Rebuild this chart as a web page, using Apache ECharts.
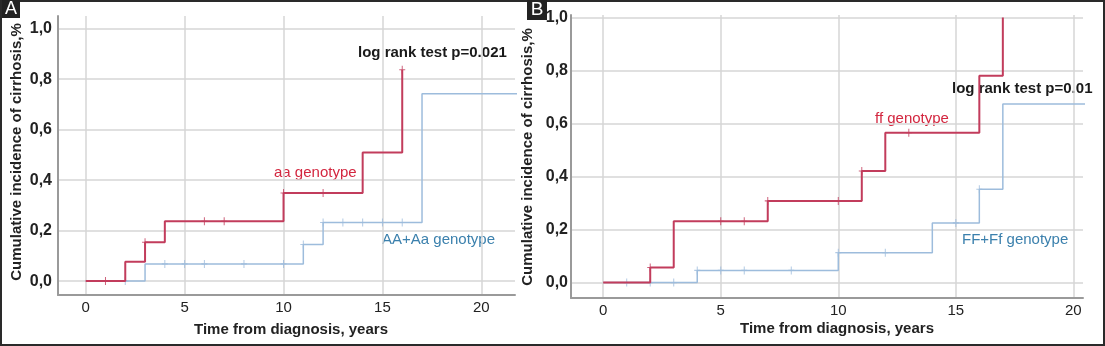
<!DOCTYPE html>
<html>
<head>
<meta charset="utf-8">
<script src="https://cdn.jsdelivr.net/npm/echarts@6/dist/echarts.min.js"></script>
<style>html,body{margin:0;padding:0;background:#fff}#c{width:1105px;height:346px}</style>
</head>
<body>
<div id="c"></div>
<script>
// ---- Data ----
const xTicks = [0, 5, 10, 15, 20];
const yTicks = [0, 0.2, 0.4, 0.6, 0.8, 1.0];

// Panel A
const aRedTimes   = [0, 2, 3, 4, 10, 14, 16];
const aRedValues  = [0, 0.077, 0.154, 0.237, 0.349, 0.509, 0.837];
const aRedCensor  = [1, 3, 6, 7, 10, 12, 16];
const aBlueTimes  = [0, 3, 11, 12, 17, 22];
const aBlueValues = [0, 0.068, 0.145, 0.232, 0.742, 0.742];
const aBlueCensor = [2, 4, 5, 6, 8, 10, 11, 12, 13, 14, 15, 16];

// Panel B
const bRedTimes   = [0, 2, 3, 7, 11, 12, 16, 17];
const bRedValues  = [0, 0.057, 0.231, 0.308, 0.421, 0.565, 0.78, 1.0];
const bRedCensor  = [2, 5, 6, 7, 10, 11, 13];
const bBlueTimes  = [0, 4, 10, 14, 16, 17, 21];
const bBlueValues = [0, 0.046, 0.113, 0.225, 0.352, 0.673, 0.673];
const bBlueCensor = [1, 2, 3, 4, 5, 6, 8, 10, 12, 15, 16];

// ---- Styling ----
const RED_LINE = '#c23c5c', BLUE_LINE = '#9dbcdc';
const RED_TEXT = '#d3263f', BLUE_TEXT = '#3b80ad';
const FONT = '"Liberation Sans", Arial, sans-serif';
const PLUS = 'path://M2.5,0H3.5V3H6V4H3.5V7H2.5V4H0V3H2.5Z';

function pairs(t, v) { return t.map((x, i) => [x, v[i]]); }
function valueAt(t, v, x) { let r = v[0]; for (let i = 0; i < t.length; i++) if (t[i] <= x) r = v[i]; return r; }
function censorPts(t, v, c) { return c.map(x => [x, valueAt(t, v, x)]); }

function xAxis(gi, min, max) {
  return {
    type: 'value', gridIndex: gi, min: min, max: max,
    axisLine: { show: true, onZero: false, lineStyle: { color: '#9a9a9a', width: 2 } },
    axisTick: { show: false, customValues: xTicks },
    axisLabel: { customValues: xTicks, color: '#222', fontFamily: FONT, fontSize: 15, margin: 5 },
    splitLine: { show: true, lineStyle: { color: '#d6d6d6', width: 1.5 } }
  };
}
function yAxis(gi, min, max, margin) {
  return {
    type: 'value', gridIndex: gi, min: min, max: max,
    axisLine: { show: true, onZero: false, lineStyle: { color: '#9a9a9a', width: 2 } },
    axisTick: { show: false, customValues: yTicks },
    axisLabel: { customValues: yTicks, color: '#222', fontFamily: FONT, fontSize: 16, fontWeight: 'bold', margin: margin,
      formatter: v => v.toFixed(1).replace('.', ',') },
    splitLine: { show: true, lineStyle: { color: '#d6d6d6', width: 1.5 } }
  };
}
function stepLine(gi, t, v, color, w) {
  return { type: 'line', xAxisIndex: gi, yAxisIndex: gi, step: 'end', symbol: 'none', clip: true,
    data: pairs(t, v), lineStyle: { color: color, width: w }, silent: true, animation: false };
}
function censors(gi, t, v, c, color) {
  return { type: 'scatter', xAxisIndex: gi, yAxisIndex: gi, symbol: PLUS, symbolSize: [6, 8],
    data: censorPts(t, v, c), itemStyle: { color: color }, silent: true, animation: false };
}

const chart = echarts.init(document.getElementById('c'), null, { renderer: 'canvas' });
chart.setOption({
  animation: false,
  grid: [
    { left: 58, top: 16, width: 457, height: 279 },
    { left: 571, top: 15, width: 512, height: 283 }
  ],
  xAxis: [xAxis(0, -1.4, 21.7), xAxis(1, -1.37, 20.41)],
  yAxis: [yAxis(0, -0.055, 1.05, 6), yAxis(1, -0.058, 1.009, 3)],
  series: [
    stepLine(0, aBlueTimes, aBlueValues, BLUE_LINE, 1.5),
    stepLine(0, aRedTimes, aRedValues, RED_LINE, 2),
    censors(0, aBlueTimes, aBlueValues, aBlueCensor, BLUE_LINE),
    censors(0, aRedTimes, aRedValues, aRedCensor, RED_LINE),
    stepLine(1, bBlueTimes, bBlueValues, BLUE_LINE, 1.5),
    stepLine(1, bRedTimes, bRedValues, RED_LINE, 2),
    censors(1, bBlueTimes, bBlueValues, bBlueCensor, BLUE_LINE),
    censors(1, bRedTimes, bRedValues, bRedCensor, RED_LINE)
  ],
  graphic: [
    { type: 'rect', shape: { x: 1, y: 1, width: 1103, height: 344 }, style: { fill: 'none', stroke: '#2a2a2a', lineWidth: 2 }, z: 100 },
    { type: 'rect', shape: { x: 2, y: 0, width: 18, height: 18 }, style: { fill: '#222' }, z: 101 },
    { type: 'text', x: 11, y: 9, style: { text: 'A', fill: '#fff', font: '18px ' + FONT, align: 'center', verticalAlign: 'middle' }, z: 102 },
    { type: 'rect', shape: { x: 527, y: 0, width: 20, height: 20 }, style: { fill: '#222' }, z: 101 },
    { type: 'text', x: 537, y: 10, style: { text: 'B', fill: '#fff', font: '19px ' + FONT, align: 'center', verticalAlign: 'middle' }, z: 102 },
    // axis titles
    { type: 'text', x: 17, y: 152, rotation: Math.PI / 2, style: { text: 'Cumulative incidence of cirrhosis,%', fill: '#222', font: 'bold 15px ' + FONT, align: 'center', verticalAlign: 'middle' } },
    { type: 'text', x: 528, y: 157, rotation: Math.PI / 2, style: { text: 'Cumulative incidence of cirrhosis,%', fill: '#222', font: 'bold 15px ' + FONT, align: 'center', verticalAlign: 'middle' } },
    { type: 'text', x: 291, y: 330, style: { text: 'Time from diagnosis, years', fill: '#222', font: 'bold 15px ' + FONT, align: 'center', verticalAlign: 'middle' } },
    { type: 'text', x: 837, y: 329, style: { text: 'Time from diagnosis, years', fill: '#222', font: 'bold 15px ' + FONT, align: 'center', verticalAlign: 'middle' } },
    // annotations
    { type: 'text', x: 358, y: 53, style: { text: 'log rank test p=0.021', fill: '#1a1a1a', font: 'bold 15px ' + FONT, align: 'left', verticalAlign: 'middle' } },
    { type: 'text', x: 274, y: 173, style: { text: 'aa genotype', fill: RED_TEXT, font: '15px ' + FONT, align: 'left', verticalAlign: 'middle' } },
    { type: 'text', x: 382, y: 240, style: { text: 'AA+Aa genotype', fill: BLUE_TEXT, font: '15px ' + FONT, align: 'left', verticalAlign: 'middle' } },
    { type: 'text', x: 952, y: 89, style: { text: 'log rank test p=0.01', fill: '#1a1a1a', font: 'bold 15px ' + FONT, align: 'left', verticalAlign: 'middle' } },
    { type: 'text', x: 875, y: 119, style: { text: 'ff genotype', fill: RED_TEXT, font: '15px ' + FONT, align: 'left', verticalAlign: 'middle' } },
    { type: 'text', x: 962, y: 240, style: { text: 'FF+Ff genotype', fill: BLUE_TEXT, font: '15px ' + FONT, align: 'left', verticalAlign: 'middle' } }
  ]
});
</script>
</body>
</html>
